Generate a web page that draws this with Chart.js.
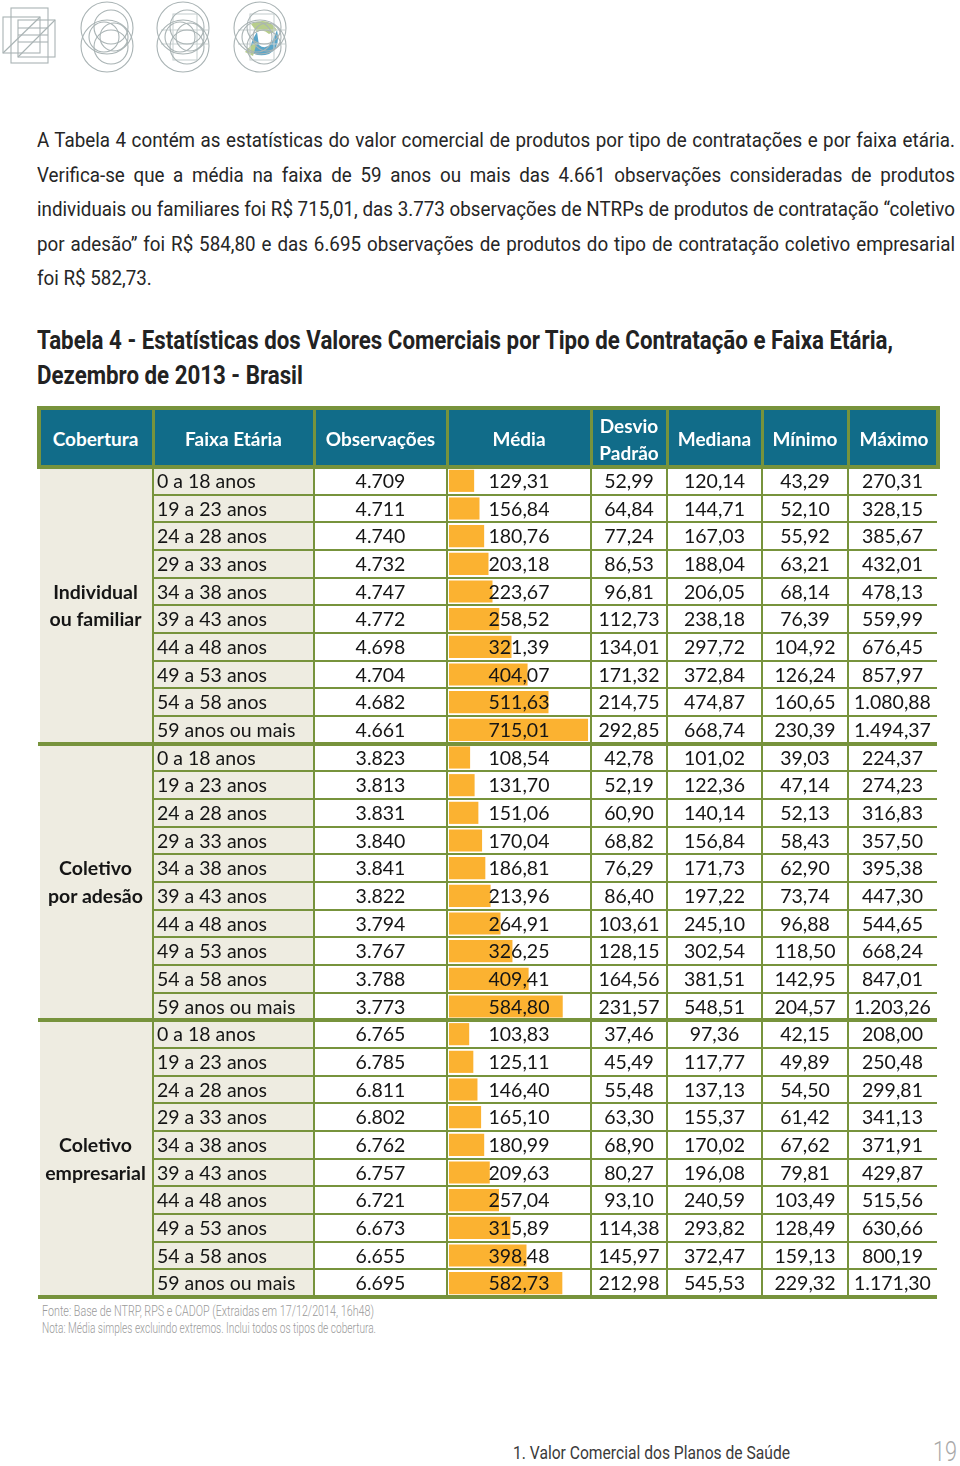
<!DOCTYPE html>
<html>
<head>
<meta charset="utf-8">
<script src="https://cdn.jsdelivr.net/npm/chart.js@4.4.1/dist/chart.umd.min.js"></script>
<style>
  body { margin: 0; width: 960px; height: 1466px; background: #fff; position: relative; overflow: hidden; font-family: Roboto, sans-serif; }
  .abs { position: absolute; }
  .fit { white-space: nowrap; transform-origin: 0 50%; }
  .cell { position: absolute; font-family: Lato, sans-serif; font-size: 19.5px; color: #151515; white-space: nowrap; z-index: 4; }
  .hd { position: absolute; font-family: Lato, sans-serif; font-weight: bold; font-size: 19px; color: #fff; text-align: center; z-index: 5; line-height: 27px; }
  .gl { position: absolute; background: #77933c; z-index: 3; }
  #barWrap { position: absolute; left: 449px; top: 467px; width: 141px; height: 830px; z-index: 2; }
</style>
</head>
<body>

<svg class="abs" style="left:0;top:0" width="300" height="80" fill="none" stroke="#a9b3b4" stroke-width="1.1">
  <!-- icone 1 -->
  <rect x="11" y="8" width="37" height="55"/>
  <rect x="3" y="17" width="37" height="36"/>
  <rect x="18" y="20" width="37" height="37"/>
  <line x1="3" y1="53" x2="40" y2="17"/><line x1="18" y1="57" x2="55" y2="20"/>
  <line x1="18" y1="28" x2="48" y2="28"/><line x1="18" y1="35" x2="48" y2="35"/><line x1="18" y1="42" x2="48" y2="42"/>
  <!-- icones 2-4 -->
  <g>
    <circle cx="107" cy="28" r="26"/><circle cx="107" cy="46" r="26"/>
    <circle cx="111" cy="27" r="17"/><circle cx="111" cy="47" r="17"/><circle cx="104" cy="37" r="15"/><circle cx="114" cy="37" r="14"/>
  </g>
  <g transform="translate(76,0)">
    <rect x="97" y="14" width="24" height="46" stroke="#c9d1d2"/><line x1="85" y1="30" x2="132" y2="30" stroke="#c9d1d2"/><line x1="85" y1="44" x2="132" y2="44" stroke="#c9d1d2"/>
    <circle cx="107" cy="28" r="26"/><circle cx="107" cy="46" r="26"/>
    <circle cx="111" cy="27" r="17"/><circle cx="111" cy="47" r="17"/><circle cx="104" cy="37" r="15"/><circle cx="114" cy="37" r="14"/>
  </g>
  <g transform="translate(153,0)">
    <path d="M98 24 Q115 16 124 30 L116 34 Q110 28 104 32 Z" fill="#b7cd8c" stroke="none"/>
    <path d="M96 50 Q100 38 104 32 L106 45 Q112 50 118 44 L124 30 Q128 48 116 54 Q104 58 96 50 Z" fill="#5aa5c8" stroke="none"/>
    <path d="M92 52 Q98 44 104 42 L100 56 Z" fill="#b7cd8c" stroke="none"/>
    <rect x="97" y="14" width="24" height="46" stroke="#c9d1d2"/><line x1="85" y1="30" x2="132" y2="30" stroke="#c9d1d2"/><line x1="85" y1="44" x2="132" y2="44" stroke="#c9d1d2"/>
    <circle cx="107" cy="28" r="26"/><circle cx="107" cy="46" r="26"/>
    <circle cx="111" cy="27" r="17"/><circle cx="111" cy="47" r="17"/><circle cx="104" cy="37" r="15"/><circle cx="114" cy="37" r="14"/>
  </g>
</svg>

<div id="page"></div>
<div id="barWrap"><canvas id="bars"></canvas></div>

<script>
// ---- dados ----
const coberturas = ['Individual\nou familiar', 'Coletivo\npor adesão', 'Coletivo\nempresarial'];
const faixas = ['0 a 18 anos', '19 a 23 anos', '24 a 28 anos', '29 a 33 anos', '34 a 38 anos',
  '39 a 43 anos', '44 a 48 anos', '49 a 53 anos', '54 a 58 anos', '59 anos ou mais'];
const colunas = ['Cobertura', 'Faixa Etária', 'Observações', 'Média', 'Desvio\nPadrão', 'Mediana', 'Mínimo', 'Máximo'];

// individual | adesão | empresarial
const observacoes = [
  4709, 4711, 4740, 4732, 4747, 4772, 4698, 4704, 4682, 4661,
  3823, 3813, 3831, 3840, 3841, 3822, 3794, 3767, 3788, 3773,
  6765, 6785, 6811, 6802, 6762, 6757, 6721, 6673, 6655, 6695];
const media = [
  129.31, 156.84, 180.76, 203.18, 223.67, 258.52, 321.39, 404.07, 511.63, 715.01,
  108.54, 131.70, 151.06, 170.04, 186.81, 213.96, 264.91, 326.25, 409.41, 584.80,
  103.83, 125.11, 146.40, 165.10, 180.99, 209.63, 257.04, 315.89, 398.48, 582.73];
const desvio = [
  52.99, 64.84, 77.24, 86.53, 96.81, 112.73, 134.01, 171.32, 214.75, 292.85,
  42.78, 52.19, 60.90, 68.82, 76.29, 86.40, 103.61, 128.15, 164.56, 231.57,
  37.46, 45.49, 55.48, 63.30, 68.90, 80.27, 93.10, 114.38, 145.97, 212.98];
const mediana = [
  120.14, 144.71, 167.03, 188.04, 206.05, 238.18, 297.72, 372.84, 474.87, 668.74,
  101.02, 122.36, 140.14, 156.84, 171.73, 197.22, 245.10, 302.54, 381.51, 548.51,
  97.36, 117.77, 137.13, 155.37, 170.02, 196.08, 240.59, 293.82, 372.47, 545.53];
const minimo = [
  43.29, 52.10, 55.92, 63.21, 68.14, 76.39, 104.92, 126.24, 160.65, 230.39,
  39.03, 47.14, 52.13, 58.43, 62.90, 73.74, 96.88, 118.50, 142.95, 204.57,
  42.15, 49.89, 54.50, 61.42, 67.62, 79.81, 103.49, 128.49, 159.13, 229.32];
const maximo = [
  270.31, 328.15, 385.67, 432.01, 478.13, 559.99, 676.45, 857.97, 1080.88, 1494.37,
  224.37, 274.23, 316.83, 357.50, 395.38, 447.30, 544.65, 668.24, 847.01, 1203.26,
  208.00, 250.48, 299.81, 341.13, 371.91, 429.87, 515.56, 630.66, 800.19, 1171.30];

const paragrafo = [
  'A Tabela 4 contém as estatísticas do valor comercial de produtos por tipo de contratações e por faixa etária.',
  'Verifica-se que a média na faixa de 59 anos ou mais das 4.661 observações consideradas de produtos',
  'individuais ou familiares foi R$ 715,01, das 3.773 observações de NTRPs de produtos de contratação “coletivo',
  'por adesão” foi R$ 584,80 e das 6.695 observações de produtos do tipo de contratação coletivo empresarial',
  'foi R$ 582,73.'];
const titulo = ['Tabela 4 - Estatísticas dos Valores Comerciais por Tipo de Contratação e Faixa Etária,',
  'Dezembro de 2013 - Brasil'];
const notas = ['Fonte: Base de NTRP, RPS e CADOP (Extraidas em 17/12/2014, 16h48)',
  'Nota: Média simples excluindo extremos.  Inclui todos os tipos de cobertura.'];

// ---- layout ----
const page = document.getElementById('page');
const colX = [38, 153, 314, 447, 591, 667, 762, 848, 937];
const TOP = 467, RH = 830 / 30;

function el(cls, css, text) {
  const d = document.createElement('div');
  d.className = cls;
  Object.assign(d.style, css);
  if (text !== undefined) d.textContent = text;
  page.appendChild(d);
  return d;
}
function fmt(v, dec) {
  const parts = v.toFixed(dec).split('.');
  const int = parts[0].replace(/\B(?=(\d{3})+(?!\d))/g, '.');
  return parts[1] ? int + ',' + parts[1] : int;
}
function fitTo(d, target) {
  const w = d.getBoundingClientRect().width;
  d.style.transform = 'scaleX(' + (target / w) + ')';
}

// paragrafo justificado, fonte condensada por escala
const spans = paragrafo.map((t, i) => el('abs fit', { left: '37px', top: (140 + i * 34.5 - 13) + 'px', fontSize: '21px', lineHeight: '26px', color: '#262626' }, t));
let sc = Math.min(...spans.slice(0, 4).map(s => 918 / s.getBoundingClientRect().width));
spans.forEach((s, i) => {
  if (i < 4) { s.style.width = (918 / sc) + 'px'; s.style.textAlign = 'justify'; s.style.textAlignLast = 'justify'; s.style.whiteSpace = 'normal'; }
  s.style.transform = 'scaleX(' + sc + ')';
});

// titulo
const t1 = el('abs fit', { left: '37px', top: '326px', fontSize: '25px', fontWeight: 'bold', lineHeight: '30px', color: '#222' }, titulo[0]);
const tsc = 856 / t1.getBoundingClientRect().width;
t1.style.transform = 'scaleX(' + tsc + ')';
const t2 = el('abs fit', { left: '37px', top: '361px', fontSize: '25px', fontWeight: 'bold', lineHeight: '30px', color: '#222' }, titulo[1]);
t2.style.transform = 'scaleX(' + tsc + ')';

// cabecalho
el('abs', { left: '37px', top: '406px', width: '903px', height: '63px', background: '#116c89', border: '4px solid #77933c', boxSizing: 'border-box', zIndex: 3 });
for (let c = 1; c < 8; c++) el('gl', { left: (colX[c] - 1.5) + 'px', top: '406px', width: '3px', height: '62px' });
colunas.forEach((h, c) => {
  const lines = h.split('\n');
  const x0 = colX[c], x1 = c === 7 ? 940 : colX[c + 1];
  lines.forEach((ln, k) => {
    const cy = lines.length === 1 ? 438 : 425 + k * 27;
    el('hd', { left: x0 + 'px', width: (x1 - x0) + 'px', top: (cy - 13.5) + 'px' }, ln);
  });
});

// fundo das duas primeiras colunas
el('abs', { left: '40px', top: TOP + 'px', width: (colX[2] - 40) + 'px', height: (30 * RH) + 'px', background: '#eeece1', zIndex: 1 });

// linhas da grade
for (let i = 1; i <= 30; i++) {
  const y = TOP + i * RH;
  if (i % 10 === 0) el('gl', { left: '38px', top: (y - 2) + 'px', width: '899px', height: '4px' });
  else el('gl', { left: colX[1] + 'px', top: (y - 1) + 'px', width: (colX[8] - colX[1]) + 'px', height: '2px' });
}
for (let c = 1; c < 8; c++) el('gl', { left: (colX[c] - 1) + 'px', top: TOP + 'px', width: '2px', height: (30 * RH) + 'px' });

// textos das celulas
const numCols = [[observacoes, 0], [media, 2], [desvio, 2], [mediana, 2], [minimo, 2], [maximo, 2]];
for (let i = 0; i < 30; i++) {
  const top = TOP + i * RH;
  el('cell', { left: (colX[1] + 4) + 'px', top: top + 'px', lineHeight: RH + 'px' }, faixas[i % 10]);
  numCols.forEach(([arr, dec], k) => {
    const c = k + 2;
    el('cell', { left: colX[c] + 'px', width: (colX[c + 1] - colX[c]) + 'px', textAlign: 'center', top: top + 'px', lineHeight: RH + 'px' }, fmt(arr[i], dec));
  });
}
coberturas.forEach((cb, g) => {
  cb.split('\n').forEach((ln, k) => {
    el('cell', { left: colX[0] + 'px', width: (colX[1] - colX[0]) + 'px', textAlign: 'center', fontWeight: 'bold', top: (TOP + (g * 10 + 4 + k) * RH) + 'px', lineHeight: RH + 'px' }, ln);
  });
});

// notas e rodape
notas.forEach((n, i) => {
  const d = el('abs fit', { left: '42px', top: (1303 + i * 17) + 'px', fontSize: '14px', fontWeight: '300', lineHeight: '16px', color: '#9a9a9a' }, n);
  fitTo(d, i === 0 ? 332 : 334);
});
const rod = el('abs fit', { left: '513px', top: '1443px', fontSize: '18px', lineHeight: '20px', color: '#3a3a3a' }, '1. Valor Comercial dos Planos de Saúde');
fitTo(rod, 277);
const pg = el('abs fit', { left: '933px', top: '1439px', fontSize: '28px', fontWeight: '300', lineHeight: '25px', color: '#a8a8a8' }, '19');
fitTo(pg, 24);

// barras de dados na coluna Média
const labels = coberturas.flatMap(c => faixas.map(f => c.replace('\n', ' ') + ' - ' + f));
new Chart(document.getElementById('bars'), {
  type: 'bar',
  data: {
    labels,
    datasets: [{
      data: media,
      backgroundColor: '#fbb231',
      borderWidth: 0,
      barPercentage: 0.8,
      categoryPercentage: 1
    }]
  },
  options: {
    indexAxis: 'y',
    responsive: true,
    maintainAspectRatio: false,
    animation: false,
    layout: { padding: 0 },
    plugins: { legend: { display: false }, tooltip: { enabled: false } },
    scales: {
      x: { display: false, min: 0, max: 725 },
      y: { display: false }
    }
  }
});
</script>
</body>
</html>
